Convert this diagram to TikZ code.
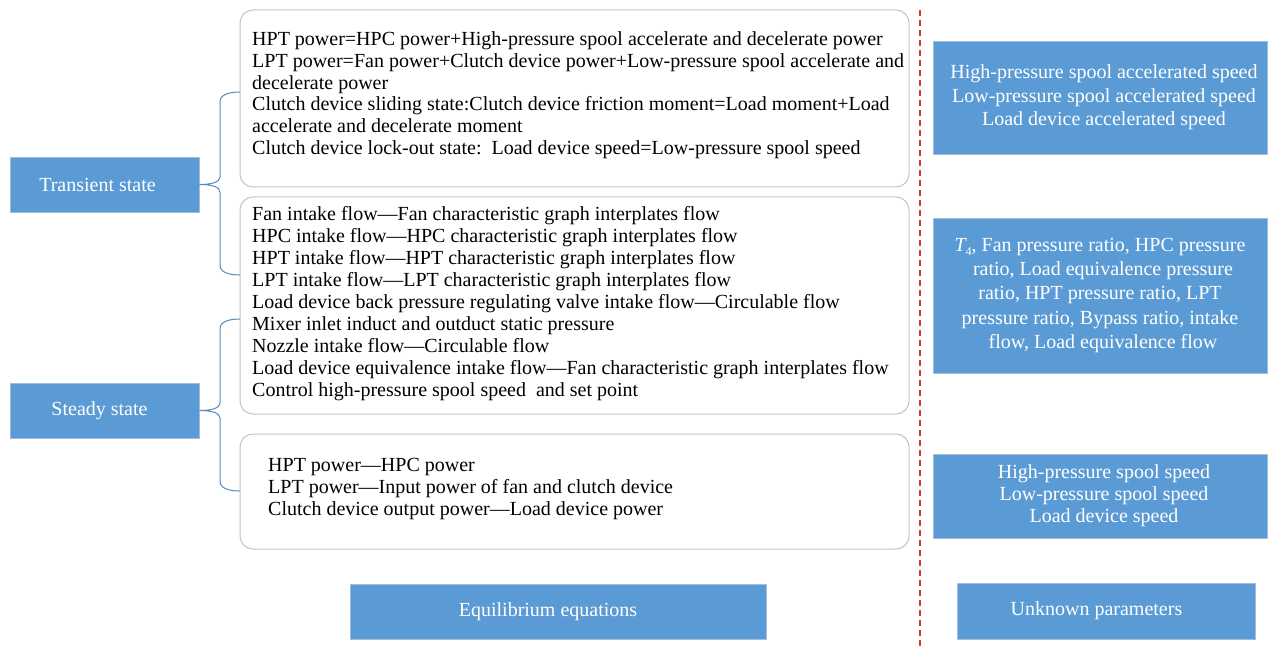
\documentclass[tikz,border=0pt]{standalone}
\usepackage{fontspec}
\setmainfont{Liberation Serif}
\definecolor{boxblue}{RGB}{91,155,213}
\definecolor{boxedge}{RGB}{160,190,220}
\definecolor{dashred}{RGB}{200,60,60}
\definecolor{roundedge}{RGB}{195,195,195}
\newcommand{\rs}{\hspace*{8pt}}
\tikzset{
  bluebox/.style={fill=boxblue, draw=boxedge, line width=0.8pt, text=white, align=center, inner sep=0pt,
    font=\fontsize{20}{23.5}\selectfont},
  roundbox/.style={draw=roundedge, line width=1pt, rounded corners=13pt, minimum width=669pt, inner sep=0pt},
  eqtext/.style={anchor=base west, align=left, inner sep=0pt, font=\fontsize{20}{22}\selectfont},
  bracepath/.style={draw=boxblue!90!black, line width=1pt},
  divider/.style={draw=dashred, line width=1.3pt, dash pattern=on 6pt off 4pt}
}
\begin{document}
\begin{tikzpicture}[x=1pt,y=-1pt]
\useasboundingbox (0,0) rectangle (1271,647);
% left state boxes
\node[bluebox, minimum width=189pt, minimum height=55pt] (trans) at (104.5,184.5) {\hspace*{-14pt}Transient state};
\node[bluebox, minimum width=189pt, minimum height=55pt] (steady) at (104.5,410.5) {\hspace*{-10pt}Steady state};
% rounded equation boxes
\node[roundbox, minimum height=177pt] (b1) at (574.5,98.5) {};
\node[roundbox, minimum height=217pt] (b2) at (574.5,305.5) {};
\node[roundbox, minimum height=115pt] (b3) at (574.5,491.5) {};
\node[eqtext, font=\fontsize{20}{21.8}\selectfont] (t1) at (252,154.5) {HPT power=HPC power+High-pressure spool accelerate and decelerate power\\
LPT power=Fan power+Clutch device power+Low-pressure spool accelerate and\\
decelerate power\\
Clutch device sliding state:Clutch device friction moment=Load moment+Load\\
accelerate and decelerate moment\\
Clutch device lock-out state:\ \ Load device speed=Low-pressure spool speed};
\node[eqtext] (t2) at (252,396.5) {Fan intake flow—Fan characteristic graph interplates flow\\
HPC intake flow—HPC characteristic graph interplates flow\\
HPT intake flow—HPT characteristic graph interplates flow\\
LPT intake flow—LPT characteristic graph interplates flow\\
Load device back pressure regulating valve intake flow—Circulable flow\\
Mixer inlet induct and outduct static pressure\\
Nozzle intake flow—Circulable flow\\
Load device equivalence intake flow—Fan characteristic graph interplates flow\\
Control high-pressure spool speed\ \ and set point};
\node[eqtext] (t3) at (268,515.5) {HPT power—HPC power\\
LPT power—Input power of fan and clutch device\\
Clutch device output power—Load device power};
% bottom labels
\node[bluebox, minimum width=416pt, minimum height=55pt] (eq) at (558,611.5) {\hspace*{-20pt}Equilibrium equations};
\node[bluebox, minimum width=298pt, minimum height=56pt] (unk) at (1106,611) {\hspace*{-19pt}Unknown parameters};
% right parameter boxes
\node[bluebox, minimum width=334pt, minimum height=113pt] (r1) at (1100,97.5) {\rs High-pressure spool accelerated speed\\\rs Low-pressure spool accelerated speed\\\rs Load device accelerated speed};
\node[bluebox, minimum width=334pt, minimum height=155pt, font=\fontsize{20}{24.3}\selectfont] (r2) at (1100,295.5) {{\itshape T}\raisebox{-0.45ex}{\fontsize{12}{12}\selectfont 4}, Fan pressure ratio, HPC pressure\\\hspace*{6pt}ratio, Load equivalence pressure\\ratio, HPT pressure ratio, LPT\hspace*{6pt}\\pressure ratio, Bypass ratio, intake\\\hspace*{6pt}flow, Load equivalence flow};
\node[bluebox, minimum width=334pt, minimum height=84pt, font=\fontsize{20}{22}\selectfont] (r3) at (1100,496) {\rs High-pressure spool speed\\\rs Low-pressure spool speed\\\rs Load device speed};
% divider
\coordinate (dtop) at (920,10);
\coordinate (dbot) at (920,647);
\draw[divider] (dtop) -- (dbot);
% braces
\coordinate (a1) at (240,92);
\coordinate (a2) at (240,275);
\coordinate (c1) at (240,319);
\coordinate (c2) at (240,491);
\draw[bracepath] (a1) .. controls (228,92) and (220,95) .. (220,102) -- (220,177)
  .. controls (220,182) and (212,184.5) .. (trans.east)
  .. controls (212,184.5) and (220,187) .. (220,192) -- (220,265)
  .. controls (220,272) and (228,275) .. (a2);
\draw[bracepath] (c1) .. controls (228,319) and (220,322) .. (220,329) -- (220,403)
  .. controls (220,408) and (212,410.5) .. (steady.east)
  .. controls (212,410.5) and (220,413) .. (220,418) -- (220,481)
  .. controls (220,488) and (228,491) .. (c2);
\end{tikzpicture}
\end{document}
